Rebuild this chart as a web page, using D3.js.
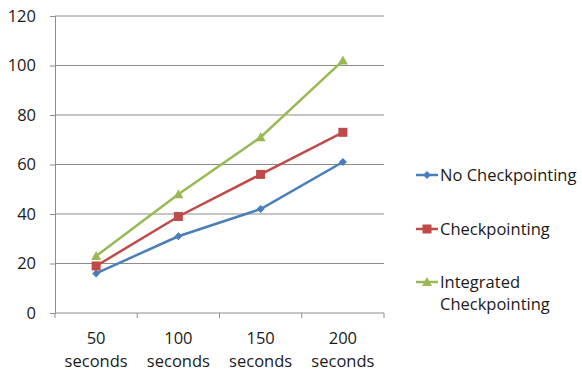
<!DOCTYPE html>
<html>
<head>
<meta charset="utf-8">
<script src="https://cdn.jsdelivr.net/npm/d3@7"></script>
<style>
  body { margin: 0; background: #fff; }
  text { font-family: "Open Sans", sans-serif; fill: #1a1a1a; }
</style>
</head>
<body>
<svg id="chart" width="582" height="371"></svg>
<script>
var categories = ["50 seconds", "100 seconds", "150 seconds", "200 seconds"];
var noCheckpointing = [16, 31, 42, 61];
var checkpointing = [19, 39, 56, 73];
var integratedCheckpointing = [23, 48, 71, 102];
var yTicks = [0, 20, 40, 60, 80, 100, 120];

var series = [
  { name: ["No Checkpointing"], values: noCheckpointing, color: "#4a7ebb", shape: "diamond" },
  { name: ["Checkpointing"], values: checkpointing, color: "#be4b48", shape: "square" },
  { name: ["Integrated", "Checkpointing"], values: integratedCheckpointing, color: "#98b954", shape: "triangle" }
];

var svg = d3.select("#chart");
var plotLeft = 55, plotRight = 384, plotTop = 16, plotBottom = 313;
var fontSize = "16.5px";

var x = d3.scaleBand().domain(categories).range([plotLeft, plotRight]);
var y = d3.scaleLinear().domain([0, 120]).range([plotBottom, plotTop]);

// gridlines
svg.append("g").selectAll("line").data(yTicks.slice(1)).enter().append("line")
  .attr("x1", plotLeft).attr("x2", plotRight)
  .attr("y1", function(d) { return y(d); }).attr("y2", function(d) { return y(d); })
  .attr("stroke", "#8c8c8c").attr("stroke-width", 1);

// y axis
var yAxis = svg.append("g").attr("transform", "translate(" + plotLeft + ",0)")
  .call(d3.axisLeft(y).tickValues(yTicks).tickSize(5).tickPadding(14));
yAxis.select(".domain").attr("stroke", "#8c8c8c");
yAxis.selectAll(".tick line").attr("stroke", "#8c8c8c");
yAxis.selectAll("text").style("font-size", fontSize).attr("fill", "#1a1a1a");

// x axis
var xAxis = svg.append("g").attr("transform", "translate(0," + plotBottom + ")");
xAxis.append("line").attr("x1", plotLeft).attr("x2", plotRight)
  .attr("y1", 0).attr("y2", 0).attr("stroke", "#8c8c8c");
var edges = categories.map(function(c) { return x(c); }).concat([plotRight]);
xAxis.selectAll(".edge").data(edges).enter().append("line")
  .attr("x1", function(d) { return d; }).attr("x2", function(d) { return d; })
  .attr("y1", 0).attr("y2", 5).attr("stroke", "#8c8c8c");

var xl = svg.append("g").selectAll("text").data(categories).enter().append("text")
  .attr("text-anchor", "middle")
  .style("font-size", fontSize);
xl.append("tspan").attr("x", function(d) { return x(d) + x.bandwidth() / 2; }).attr("y", 344)
  .text(function(d) { return d.split(" ")[0]; });
xl.append("tspan").attr("x", function(d) { return x(d) + x.bandwidth() / 2; }).attr("y", 367)
  .text(function(d) { return d.split(" ")[1]; });

function marker(sel, shape, color) {
  if (shape === "diamond") {
    sel.append("path").attr("d", "M0,-4L4,0L0,4L-4,0Z").attr("fill", color);
  } else if (shape === "square") {
    sel.append("rect").attr("x", -4.5).attr("y", -4.5).attr("width", 9).attr("height", 9).attr("fill", color);
  } else {
    sel.append("path").attr("d", "M0,-5L5,4L-5,4Z").attr("fill", color);
  }
}

var line = d3.line()
  .x(function(d, i) { return x(categories[i]) + x.bandwidth() / 2; })
  .y(function(d) { return y(d); });

series.forEach(function(s) {
  svg.append("path").datum(s.values)
    .attr("d", line).attr("fill", "none")
    .attr("stroke", s.color).attr("stroke-width", 2.5);
  s.values.forEach(function(v, i) {
    var g = svg.append("g")
      .attr("transform", "translate(" + (x(categories[i]) + x.bandwidth() / 2) + "," + y(v) + ")");
    marker(g, s.shape, s.color);
  });
});

// legend
var legendY = [175, 229, 282];
series.forEach(function(s, i) {
  var g = svg.append("g").attr("transform", "translate(416," + legendY[i] + ")");
  g.append("line").attr("x1", 0).attr("x2", 22).attr("y1", 0).attr("y2", 0)
    .attr("stroke", s.color).attr("stroke-width", 2.5);
  var m = g.append("g").attr("transform", "translate(11,0)");
  marker(m, s.shape, s.color);
  var t = g.append("text").style("font-size", fontSize);
  s.name.forEach(function(n, j) {
    t.append("tspan").attr("x", 24).attr("y", 6 + j * 22).text(n);
  });
});
</script>
</body>
</html>
